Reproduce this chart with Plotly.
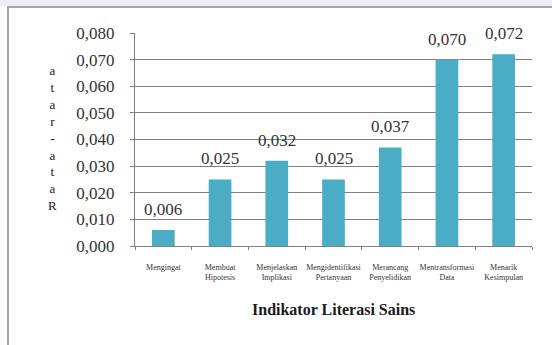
import plotly.graph_objects as go

categories = ["Mengingat", "Membuat<br>Hipotesis", "Menjelaskan<br>Implikasi",
              "Mengidentifikasi<br>Pertanyaan", "Merancang<br>Penyelidikan",
              "Mentransformasi<br>Data", "Menarik<br>Kesimpulan"]
values = [0.006, 0.025, 0.032, 0.025, 0.037, 0.070, 0.072]
y_ticks = [0.000, 0.010, 0.020, 0.030, 0.040, 0.050, 0.060, 0.070, 0.080]
x_title = "Indikator Literasi Sains"
y_title = "Rata-rata"

SERIF = "Liberation Serif, DejaVu Serif, serif"
GRID = "#808080"
BAR = "#4bacc6"

W, H = 552, 345
L, R, T, B = 135, 20, 33, 99
pw, ph = W - L - R, H - T - B

def px_x(p):
    return (p - L) / pw

def px_y(p):
    return (H - B - p) / ph

fig = go.Figure()
fig.add_trace(go.Bar(
    x=categories, y=values, marker_color=BAR, marker_line_width=0,
    width=0.4, hoverinfo="skip",
))

annotations = []
for c, v in zip(categories, values):
    annotations.append(dict(
        x=c, y=v, xref="x", yref="y", text=f"{v:.3f}".replace(".", ","),
        showarrow=False, yanchor="bottom", yshift=9,
        font=dict(family=SERIF, size=17, color="#333333"),
    ))

annotations.append(dict(
    x=0.5, y=px_y(309), xref="paper", yref="paper", text=f"<b>{x_title}</b>",
    showarrow=False, xanchor="center", yanchor="middle",
    font=dict(family=SERIF, size=16, color="#1a1a1a"),
))

stacked = "<br>".join(list(reversed(y_title)))
annotations.append(dict(
    x=px_x(52), y=px_y(138), xref="paper", yref="paper", text=stacked,
    showarrow=False, xanchor="center", yanchor="middle", align="center",
    font=dict(family=SERIF, size=13, color="#1a1a1a"),
))

shapes = [
    dict(type="rect", xref="paper", yref="paper",
         x0=px_x(-5), x1=px_x(560), y0=px_y(6.5), y1=px_y(-5),
         fillcolor="#eceef4", line_width=0, layer="below"),
    dict(type="rect", xref="paper", yref="paper",
         x0=px_x(8), x1=px_x(570), y0=px_y(360), y1=px_y(7),
         fillcolor="rgba(0,0,0,0)", line=dict(color="#a8a8a8", width=2)),
]

fig.update_layout(
    width=W, height=H,
    margin=dict(l=L, r=R, t=T, b=B),
    paper_bgcolor="white", plot_bgcolor="white",
    showlegend=False,
    separators=",.",
    annotations=annotations,
    shapes=shapes,
    xaxis=dict(
        showline=True, linecolor=GRID, linewidth=1,
        ticks="outside", tickson="boundaries", ticklen=3, tickcolor=GRID,
        tickfont=dict(family=SERIF, size=8, color="#333333"),
        ticklabelstandoff=13, showgrid=False, tickangle=0,
    ),
    yaxis=dict(
        range=[0, 0.08], tickvals=y_ticks, tickformat=".3f",
        showline=True, linecolor=GRID, linewidth=1,
        ticks="outside", ticklen=4, tickcolor=GRID,
        showgrid=True, gridcolor=GRID, gridwidth=1,
        zeroline=False,
        tickfont=dict(family=SERIF, size=17, color="#333333"),
        ticklabelstandoff=12,
    ),
)

fig.write_html("out.html")
